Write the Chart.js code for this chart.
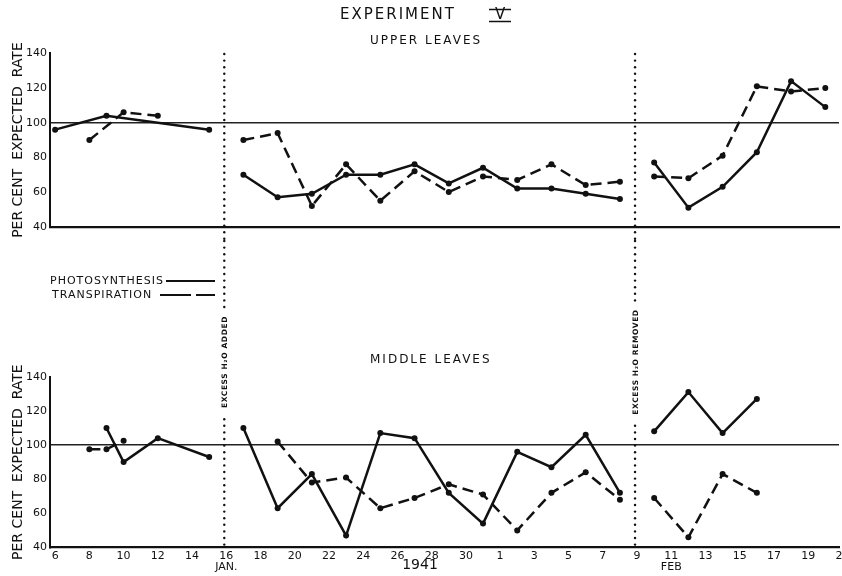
<!DOCTYPE html>
<html>
<head>
<meta charset="utf-8">
<title>Experiment V</title>
<script src="https://cdn.jsdelivr.net/npm/chart.js@4.4.0/dist/chart.umd.min.js"></script>
<style>
  body { margin: 0; background: #fff; }
  #wrap { position: relative; width: 842px; height: 576px; }
  canvas { position: absolute; left: 0; }
</style>
</head>
<body>
<div id="wrap">
  <canvas id="upper" width="842" height="240" style="top:0"></canvas>
  <canvas id="middle" width="842" height="336" style="top:240px"></canvas>
</div>
<script>
// days are counted from 1 Jan 1941, so 1 Feb = 32
const tickDays = [6, 8, 10, 12, 14, 16, 18, 20, 22, 24, 26, 28, 30, 32, 34, 36, 38, 40, 42, 44, 46, 48, 50, 52];
const tickLabels = ['6', '8', '10', '12', '14', ['16', 'JAN.'], '18', '20', '22', '24', '26', '28', '30',
  '1', '3', '5', '7', '9', ['11', 'FEB'], '13', '15', '17', '19', '21'];

const treatmentDays = [16, 40];
const treatmentNotes = ['EXCESS H₂O ADDED', 'EXCESS H₂O REMOVED'];

// upper leaves (null = no reading, breaks the line)
const upperPhotoDays  = [6, 9, 15, 16, 17, 19, 21, 23, 25, 27, 29, 31, 33, 35, 37, 39, 40, 41, 43, 45, 47, 49, 51];
const upperPhotoRates = [96, 104, 96, null, 70, 57, 59, 70, 70, 76, 65, 74, 62, 62, 59, 56, null, 77, 51, 63, 83, 124, 109];
const upperTransDays  = [8, 10, 12, 16, 17, 19, 21, 23, 25, 27, 29, 31, 33, 35, 37, 39, 40, 41, 43, 45, 47, 49, 51];
const upperTransRates = [90, 106, 104, null, 90, 94, 52, 76, 55, 72, 60, 69, 67, 76, 64, 66, null, 69, 68, 81, 121, 118, 120];

// middle leaves
const middlePhotoDays  = [9, 10, 12, 15, 16, 17, 19, 21, 23, 25, 27, 29, 31, 33, 35, 37, 39, 40, 41, 43, 45, 47];
const middlePhotoRates = [110, 90, 104, 93, null, 110, 63, 83, 47, 107, 104, 72, 54, 96, 87, 106, 72, null, 108, 131, 107, 127];
const middleTransDays  = [8, 9, 10, 16, 19, 21, 23, 25, 27, 29, 31, 33, 35, 37, 39, 40, 41, 43, 45, 47];
const middleTransRates = [97.5, 97.5, 102.5, null, 102, 78, 81, 63, 69, 77, 71, 50, 72, 84, 68, null, 69, 46, 83, 72];

const FONT = '"DejaVu Sans", sans-serif';
const INK = '#111';

function points(days, rates) {
  return days.map((d, i) => ({ x: d, y: rates[i] }));
}

function series(label, days, rates, dashed) {
  return {
    label: label,
    data: points(days, rates),
    borderColor: INK,
    backgroundColor: INK,
    borderWidth: 2.5,
    borderDash: dashed ? [11, 6] : [],
    pointRadius: 3,
    pointHoverRadius: 3,
    pointBorderWidth: 0,
    tension: 0,
    clip: false
  };
}

function scalesFor(showDates) {
  return {
    x: {
      type: 'linear',
      min: 5.7,
      max: 51.8,
      afterBuildTicks: s => { s.ticks = tickDays.map(v => ({ value: v })); },
      afterFit: s => {
        s.paddingLeft = 0;
        s.paddingRight = 0;
        if (showDates) s.height = 28.5;
      },
      grid: { display: true, drawOnChartArea: false, drawTicks: false, color: 'transparent' },
      border: { display: true, color: INK, width: 2.2 },
      ticks: {
        display: showDates,
        autoSkip: false,
        maxRotation: 0,
        padding: 3,
        color: INK,
        font: { family: FONT, size: 11, lineHeight: 1 },
        callback: (v, i) => tickLabels[i]
      }
    },
    y: {
      min: 40,
      max: 140,
      afterFit: s => { s.width = 50; },
      grid: {
        drawTicks: false,
        color: c => (c.tick && c.tick.value === 100 ? '#222' : 'transparent'),
        lineWidth: 1.4
      },
      border: { display: true, color: INK, width: 2 },
      ticks: { stepSize: 20, padding: 3, color: INK, font: { family: FONT, size: 11 } },
      title: {
        display: true,
        text: 'PER CENT  EXPECTED  RATE',
        color: INK,
        font: { family: FONT, size: 14 },
        padding: { top: 10, bottom: 0 }
      }
    }
  };
}

function label(ctx, text, x, y, size, spacing, weight) {
  ctx.font = (weight || 'normal') + ' ' + size + 'px ' + FONT;
  ctx.letterSpacing = (spacing || 0) + 'px';
  ctx.fillText(text, x, y);
}

function dottedLine(ctx, x, y0, y1, gap) {
  for (let y = y0; y <= y1; y += 6.6) {
    if (gap && y > gap[0] && y < gap[1]) continue;
    ctx.beginPath();
    ctx.arc(x, y, 1.2, 0, Math.PI * 2);
    ctx.fill();
  }
}

// headings and the dotted treatment lines of the top panel
const upperNotes = {
  id: 'upperNotes',
  afterDraw(chart) {
    const ctx = chart.ctx, xs = chart.scales.x;
    ctx.save();
    ctx.fillStyle = INK;
    ctx.strokeStyle = INK;
    ctx.textBaseline = 'middle';
    ctx.textAlign = 'left';
    label(ctx, 'EXPERIMENT', 340, 15, 15, 2);
    label(ctx, 'V', 495, 15.5, 15, 0);
    ctx.lineWidth = 1.6;
    ctx.beginPath();
    ctx.moveTo(489, 9.5); ctx.lineTo(511, 9.5);
    ctx.moveTo(489, 21.5); ctx.lineTo(511, 21.5);
    ctx.stroke();
    label(ctx, 'UPPER LEAVES', 370, 41, 12, 2);
    treatmentDays.forEach(d => dottedLine(ctx, xs.getPixelForValue(d) - 2, 54, chart.height));
    ctx.restore();
  }
};

// key, panel heading, year and the treatment notes of the bottom panel
const middleNotes = {
  id: 'middleNotes',
  afterDraw(chart) {
    const ctx = chart.ctx, xs = chart.scales.x, area = chart.chartArea;
    ctx.save();
    ctx.fillStyle = INK;
    ctx.strokeStyle = INK;
    ctx.textBaseline = 'middle';
    ctx.textAlign = 'left';

    label(ctx, 'PHOTOSYNTHESIS', 50, 41, 11, 1);
    ctx.lineWidth = 2;
    ctx.beginPath(); ctx.moveTo(166, 41); ctx.lineTo(215, 41); ctx.stroke();
    label(ctx, 'TRANSPIRATION', 52, 55, 11, 1);
    ctx.setLineDash([31, 5]);
    ctx.beginPath(); ctx.moveTo(160, 55); ctx.lineTo(215, 55); ctx.stroke();
    ctx.setLineDash([]);

    label(ctx, 'MIDDLE LEAVES', 370, 120, 12, 2);

    ctx.textAlign = 'center';
    label(ctx, '1941', 420, 325, 14, 0);

    treatmentDays.forEach((d, i) => {
      const x = xs.getPixelForValue(d) - 2;
      ctx.save();
      ctx.font = 'bold 7.5px ' + FONT;
      ctx.letterSpacing = '0.6px';
      const half = ctx.measureText(treatmentNotes[i]).width / 2;
      ctx.translate(x + 1, 122);
      ctx.rotate(-Math.PI / 2);
      ctx.textAlign = 'center';
      ctx.fillText(treatmentNotes[i], 0, 0);
      ctx.restore();
      dottedLine(ctx, x, 1, area.bottom - 2, [122 - half - 5, 122 + half + 5]);
    });
    ctx.restore();
  }
};

function panel(id, photoDays, photoRates, transDays, transRates, showDates, padding, notes) {
  return new Chart(document.getElementById(id), {
    type: 'line',
    data: {
      datasets: [
        series('Photosynthesis', photoDays, photoRates, false),
        series('Transpiration', transDays, transRates, true)
      ]
    },
    options: {
      responsive: false,
      animation: false,
      devicePixelRatio: 1,
      spanGaps: false,
      layout: { padding: padding },
      plugins: { legend: { display: false }, tooltip: { enabled: false } },
      scales: scalesFor(showDates)
    },
    plugins: [notes]
  });
}

panel('upper', upperPhotoDays, upperPhotoRates, upperTransDays, upperTransRates, false,
  { top: 53.4, bottom: 13.3, left: 0, right: 0 }, upperNotes);
panel('middle', middlePhotoDays, middlePhotoRates, middleTransDays, middleTransRates, true,
  { top: 136.7, bottom: 0, left: 0, right: 0 }, middleNotes);
</script>
</body>
</html>
